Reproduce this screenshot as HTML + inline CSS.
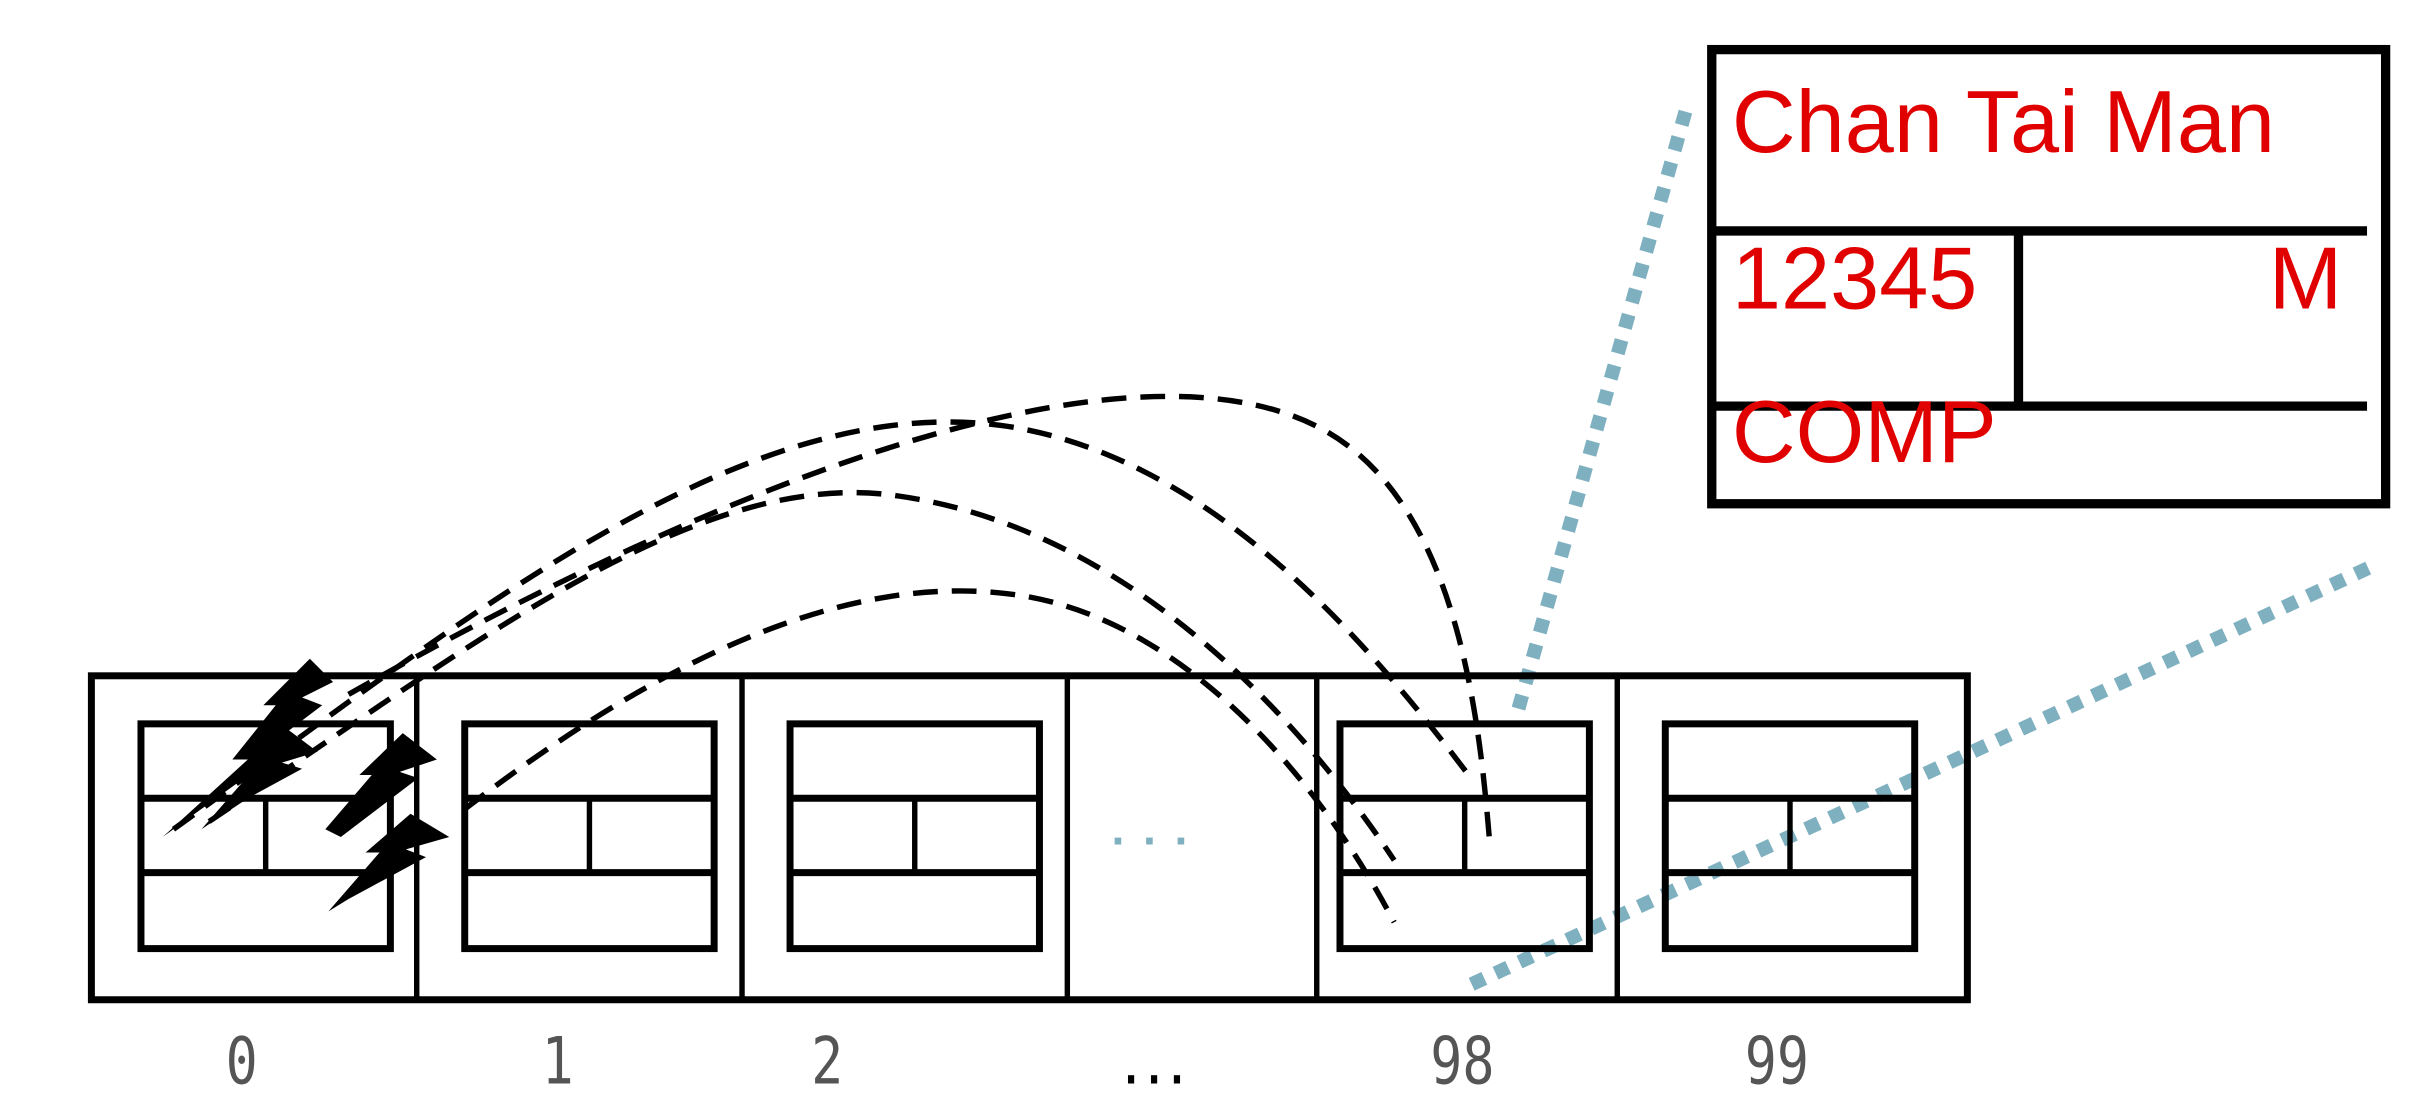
<!DOCTYPE html>
<html><head><meta charset="utf-8"><style>
html,body{margin:0;padding:0;background:#fff;width:2429px;height:1116px;overflow:hidden}
svg{display:block}
</style></head><body>
<svg width="2429" height="1116" viewBox="0 0 1568 720" preserveAspectRatio="none" xmlns="http://www.w3.org/2000/svg">
<g id="curves" fill="none" stroke="#000" stroke-width="3.5" stroke-dasharray="16 9">
<path d="M225,448 C450,320 720,210 850,275 C940,320 955,460 962,548"/>
<path d="M112,535 C300,400 480,250 650,275 C780,295 880,410 948,500"/>
<path d="M135,530 C300,420 450,300 580,320 C720,340 830,450 900,555"/>
<path d="M300,522 C420,430 540,370 650,383 C760,395 850,500 900,595"/>
</g>
<g stroke="#7fb0c0" stroke-width="9" stroke-dasharray="9 8" fill="none">
<line x1="1088" y1="72" x2="980" y2="458"/>
<line x1="950" y1="635" x2="1532" y2="365"/>
</g>
<g id="array" fill="none" stroke="#000">
<rect x="59" y="436" width="1211" height="209" stroke-width="4.5"/>
</g>
<g fill="#000">
<polygon points="150,490 178,455 170,455 200,425 215,440 195,450 208,455 175,480 188,480 105,540 160,490"/>
<polygon points="130,535 165,495 158,495 185,470 205,485 182,492 195,496 160,515"/>
<polygon points="210,535 240,500 232,500 260,473 282,490 258,498 270,502 220,540"/>
<polygon points="212,588 245,550 236,550 265,525 290,540 262,548 275,553 225,580"/>
</g>
<text x="748" y="545" font-family="Liberation Sans, sans-serif" font-size="30" font-weight="bold" fill="#7fb0c0" text-anchor="middle" letter-spacing="12">...</text>
<g>
<rect x="1105" y="32" width="435" height="293" fill="none" stroke="#000" stroke-width="6"/>
<line x1="1105" y1="149" x2="1528" y2="149" stroke="#000" stroke-width="6"/>
<line x1="1105" y1="262" x2="1528" y2="262" stroke="#000" stroke-width="6"/>
<line x1="1303" y1="149" x2="1303" y2="262" stroke="#000" stroke-width="6"/>
<g font-family="Liberation Sans, Arial, sans-serif" font-size="57" fill="#e00000">
<text x="1118" y="98">Chan Tai Man</text>
<text x="1118" y="199">12345</text>
<text x="1512" y="199" text-anchor="end">M</text>
<text x="1118" y="298">COMP</text>
</g>
</g>
<g id="labels"></g>
</svg>
<script>
const labels = ["0","1","2","...","98","99"];
const cellBounds = [59,269,479,689,850,1044,1270];
const innerCells = [0,1,2,4,5];
const labelX = [156,360,534,745,944,1147];
const ns="http://www.w3.org/2000/svg";
const arr=document.getElementById('array');
function mk(tag, attrs){const e=document.createElementNS(ns,tag);for(const k in attrs)e.setAttribute(k,attrs[k]);return e;}
for(let i=1;i<cellBounds.length-1;i++){
  const l=mk('line',{x1:cellBounds[i],x2:cellBounds[i],y1:436,y2:645,'stroke-width':3.5});
  
  
  arr.appendChild(l);
}
const innerX=[91,300,510,0,865,1075];
innerCells.forEach(i=>{
  const x=innerX[i], w=161;
  const g=mk('g',{});
  
  
  g.appendChild(mk('rect',{x:x,y:467,width:w,height:145,'stroke-width':4.5}));
  g.appendChild(mk('line',{x1:x,x2:x+w,y1:515,y2:515,'stroke-width':4.5}));
  g.appendChild(mk('line',{x1:x,x2:x+w,y1:563,y2:563,'stroke-width':4.5}));
  g.appendChild(mk('line',{x1:x+w/2,x2:x+w/2,y1:515,y2:563,'stroke-width':3.5}));
  arr.appendChild(g);
});
const lg=document.getElementById('labels');
labels.forEach((t,i)=>{
  const dots = t==='...';
  const tx=mk('text',{x:0,y:0,'text-anchor':'middle','font-family':'DejaVu Sans Mono, Liberation Mono, monospace','font-size':dots?30:42,fill:dots?'#000':'#555',transform:'translate('+labelX[i]+',699) scale(0.82,1)'});
  
  
  if(dots) tx.setAttribute('font-weight','bold');
  tx.textContent=t;
  lg.appendChild(tx);
});
</script>
</body></html>
